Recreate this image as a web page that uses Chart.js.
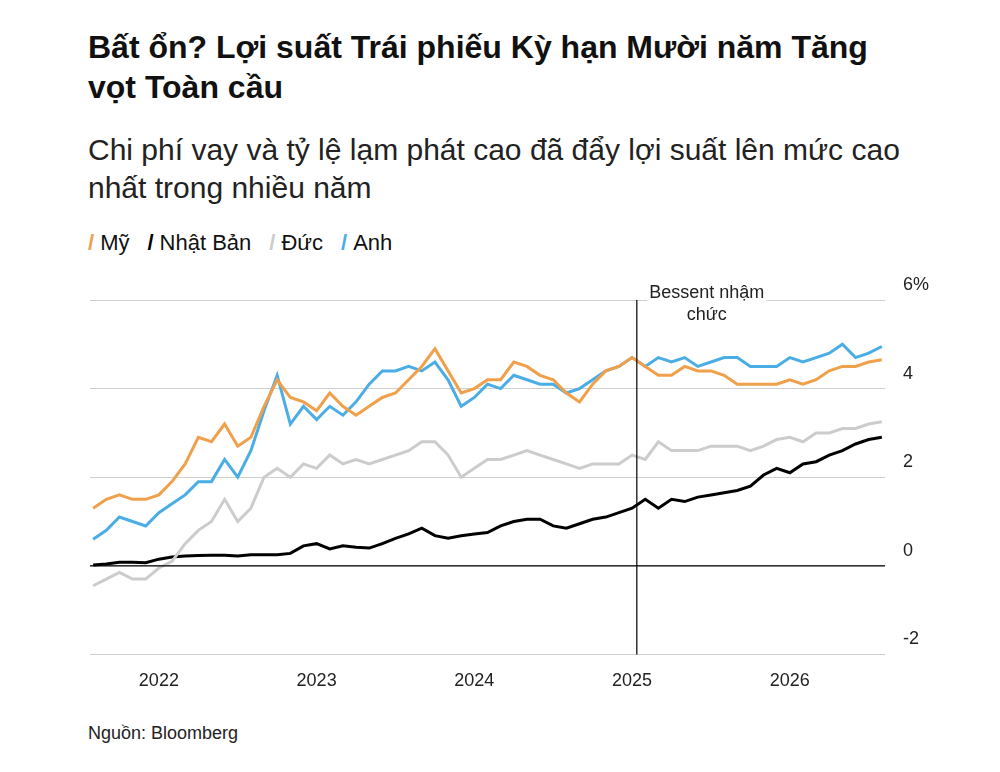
<!DOCTYPE html>
<html>
<head>
<meta charset="utf-8">
<script src="https://cdn.jsdelivr.net/npm/chart.js"></script>
<style>
  body { margin: 0; background: #fff; font-family: "Liberation Sans", Arial, sans-serif; color: #111; }
  #title { position: absolute; left: 88px; top: 27px; width: 830px; font-size: 32px; font-weight: bold; line-height: 40px; }
  #sub { position: absolute; left: 88px; top: 131px; width: 840px; font-size: 30px; line-height: 38px; color: #222; }
  #legend { position: absolute; left: 88px; top: 230px; font-size: 22px; }
  #legend span { margin-right: 18px; }
  #legend i { font-style: normal; font-weight: bold; margin-right: 6px; }
  #wrap { position: absolute; left: 0; top: 270px; width: 1000px; height: 430px; }
  #src { position: absolute; left: 88px; top: 723px; font-size: 18px; color: #222; }
</style>
</head>
<body>
<div id="title">Bất ổn? Lợi suất Trái phiếu Kỳ hạn Mười năm Tăng vọt Toàn cầu</div>
<div id="sub">Chi phí vay và tỷ lệ lạm phát cao đã đẩy lợi suất lên mức cao nhất trong nhiều năm</div>
<div id="legend"></div>
<div id="wrap"><canvas id="chart"></canvas></div>
<div id="src">Nguồn: Bloomberg</div>
<script>
// months Aug 2021 .. Aug 2026
const startYear = 2021, startMonth = 8, monthCount = 61;
const us = [1.3,1.5,1.6,1.5,1.5,
  1.6,1.9,2.3,2.9,2.8,3.2,2.7,2.9,3.6,4.2,3.8,3.7,
  3.5,3.9,3.6,3.4,3.6,3.8,3.9,4.2,4.5,4.9,4.4,3.9,
  4.0,4.2,4.2,4.6,4.5,4.3,4.2,3.9,3.7,4.1,4.4,4.5,
  4.7,4.5,4.3,4.3,4.5,4.4,4.4,4.3,4.1,4.1,4.1,4.1,
  4.2,4.1,4.2,4.4,4.5,4.5,4.6,4.65];
const japan = [0.02,0.04,0.08,0.08,0.07,
  0.15,0.2,0.22,0.23,0.24,0.24,0.22,0.25,0.25,0.25,0.28,0.45,
  0.5,0.38,0.45,0.42,0.4,0.5,0.62,0.72,0.85,0.68,0.62,0.68,
  0.72,0.75,0.9,1.0,1.05,1.05,0.9,0.85,0.95,1.05,1.1,1.2,
  1.3,1.5,1.3,1.5,1.45,1.55,1.6,1.65,1.7,1.8,2.05,2.2,
  2.1,2.3,2.35,2.5,2.6,2.75,2.85,2.9];
const germany = [-0.45,-0.3,-0.15,-0.3,-0.3,
  -0.05,0.1,0.5,0.8,1.0,1.5,1.0,1.3,2.0,2.2,2.0,2.3,
  2.2,2.5,2.3,2.4,2.3,2.4,2.5,2.6,2.8,2.8,2.5,2.0,
  2.2,2.4,2.4,2.5,2.6,2.5,2.4,2.3,2.2,2.3,2.3,2.3,
  2.5,2.4,2.8,2.6,2.6,2.6,2.7,2.7,2.7,2.6,2.7,2.85,
  2.9,2.8,3.0,3.0,3.1,3.1,3.2,3.25];
const uk = [0.6,0.8,1.1,1.0,0.9,
  1.2,1.4,1.6,1.9,1.9,2.4,2.0,2.6,3.5,4.3,3.2,3.6,
  3.3,3.6,3.4,3.7,4.1,4.4,4.4,4.5,4.4,4.6,4.2,3.6,
  3.8,4.1,4.0,4.3,4.2,4.1,4.1,3.9,4.0,4.2,4.4,4.5,
  4.7,4.5,4.7,4.6,4.7,4.5,4.6,4.7,4.7,4.5,4.5,4.5,
  4.7,4.6,4.7,4.8,5.0,4.7,4.8,4.95];
const seriesNames = ['Mỹ', 'Nhật Bản', 'Đức', 'Anh'];
const colors = ['#f0a04b', '#000000', '#cccccc', '#4aade6'];
const yTicks = [-2, 0, 2, 4, 6];
const yearTicks = [2022, 2023, 2024, 2025, 2026];
const eventX = 2025.03, eventLabel = ['Bessent nhậm', 'chức'];

const xs = [];
for (let i = 0; i < monthCount; i++) xs.push(startYear + (startMonth - 1 + i) / 12);

document.getElementById('legend').innerHTML = seriesNames.map((n, i) =>
  `<span><i style="color:${colors[i]}">/</i>${n}</span>`).join('');

const order = [germany, us, uk, japan];
const orderIdx = [2, 0, 3, 1];
const datasets = order.map((arr, k) => ({
  label: seriesNames[orderIdx[k]],
  data: arr.map((v, i) => ({ x: xs[i], y: v })),
  borderColor: colors[orderIdx[k]],
  borderWidth: 3, pointRadius: 0, tension: 0
}));

const overlay = {
  id: 'overlay',
  afterDraw(chart) {
    const { ctx, chartArea: a, scales: { x, y } } = chart;
    ctx.save();
    ctx.strokeStyle = '#000'; ctx.lineWidth = 1.2;
    ctx.beginPath(); ctx.moveTo(a.left, y.getPixelForValue(0)); ctx.lineTo(a.right, y.getPixelForValue(0)); ctx.stroke();
    const ex = x.getPixelForValue(eventX);
    ctx.beginPath(); ctx.moveTo(ex, a.top); ctx.lineTo(ex, a.bottom); ctx.stroke();
    ctx.font = '18px "Liberation Sans", Arial'; ctx.textAlign = 'center';
    ctx.fillStyle = '#fff';
    eventLabel.forEach((t, i) => {
      const w = ctx.measureText(t).width;
      ctx.fillRect(ex + 70 - w / 2 - 2, a.top - 2 + i * 22 - 16, w + 4, 20);
    });
    ctx.fillStyle = '#222';
    eventLabel.forEach((t, i) => ctx.fillText(t, ex + 70, a.top + 2 + i * 22 - 4));
    ctx.textAlign = 'left';
    yTicks.forEach(v => ctx.fillText(v === 6 ? v + '%' : String(v), a.right + 18, y.getPixelForValue(v) - 10));
    ctx.restore();
  }
};

new Chart(document.getElementById('chart'), {
  type: 'line',
  data: { datasets },
  options: {
    responsive: true, maintainAspectRatio: false, animation: false,
    layout: { padding: { left: 90, right: 115, top: 30, bottom: 0 } },
    plugins: { legend: { display: false }, tooltip: { enabled: false } },
    scales: {
      x: {
        type: 'linear', min: xs[0] - 0.02, max: xs[monthCount - 1] + 0.02,
        afterBuildTicks: s => { s.ticks = yearTicks.map(v => ({ value: v })); },
        ticks: { color: '#222', font: { size: 18, family: '"Liberation Sans", Arial' }, padding: 8, callback: v => String(v) },
        grid: { display: false }, border: { display: false }
      },
      y: {
        min: -2, max: 6,
        afterBuildTicks: s => { s.ticks = yTicks.map(v => ({ value: v })); },
        ticks: { display: false },
        grid: { color: '#cfcfcf', lineWidth: 1, drawTicks: false },
        border: { display: false }
      }
    }
  },
  plugins: [overlay]
});
</script>
</body>
</html>
